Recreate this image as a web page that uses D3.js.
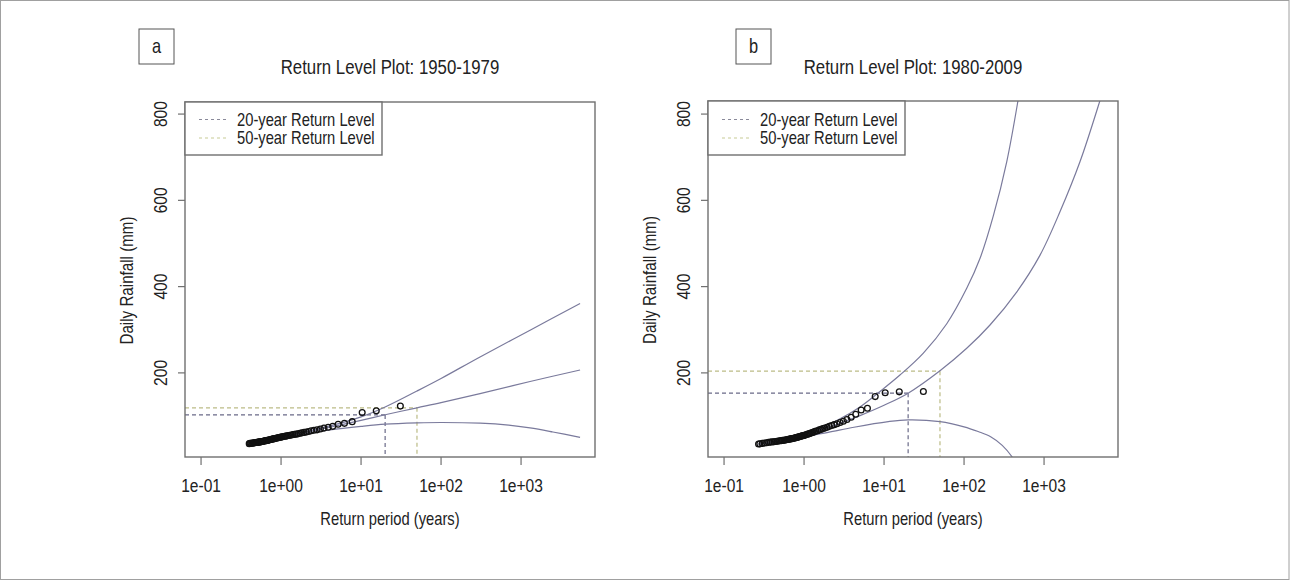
<!DOCTYPE html>
<html><head><meta charset="utf-8">
<script src="https://cdn.jsdelivr.net/npm/d3@7/dist/d3.min.js"></script>
<style>html,body{margin:0;padding:0;background:#fff;}svg{display:block;}</style>
</head><body>
<svg id="chart" width="1290" height="581"></svg>
<script>
// ---------- data ----------
const titles = ["Return Level Plot: 1950-1979", "Return Level Plot: 1980-2009"];
const panelLetters = ["a", "b"];
const legendLabels = ["20-year Return Level", "50-year Return Level"];
const xTickValues = [0.1, 1, 10, 100, 1000];
const xTickLabels = ["1e-01", "1e+00", "1e+01", "1e+02", "1e+03"];
const yTickValues = [200, 400, 600, 800];
const yTickLabels = ["200", "400", "600", "800"];
const xTitle = "Return period (years)";
const yTitle = "Daily Rainfall (mm)";
const returnPeriods = [20, 50];
const levelsA = [102.5, 119];
const levelsB = [153, 204];

// panel a observations (return period, rainfall)
const obsTA = [31, 15.5, 10.33, 7.75, 6.2, 5.17, 4.43, 3.88, 3.44, 3.1, 2.82, 2.58, 2.38, 2.21, 2.07, 1.94, 1.82, 1.72, 1.63, 1.55, 1.48, 1.41, 1.35, 1.29, 1.24, 1.19, 1.15, 1.11, 1.07, 1.03, 1.0, 0.97, 0.94, 0.91, 0.89, 0.86, 0.84, 0.82, 0.8, 0.78, 0.76, 0.74, 0.72, 0.7, 0.69, 0.67, 0.66, 0.65, 0.63, 0.62, 0.61, 0.6, 0.58, 0.57, 0.56, 0.55, 0.54, 0.53, 0.52, 0.51, 0.5, 0.49, 0.48, 0.47, 0.46, 0.45, 0.44, 0.43, 0.42, 0.41, 0.4];
const obsVA = [123, 112, 108, 87, 83, 81, 76, 74, 72, 70, 68, 67, 66, 64, 63, 62, 61, 60, 59, 58, 57.5, 57, 56, 55.5, 55, 54, 53.5, 53, 52.5, 52, 51, 50.5, 50, 49.5, 49, 48.5, 48, 47.5, 47, 46.5, 46, 45.5, 45, 44.5, 44, 43.5, 43, 43, 42.5, 42, 42, 41.5, 41, 41, 40.5, 40, 40, 39.5, 39.5, 39, 39, 38.5, 38.5, 38, 38, 37.5, 37.5, 37, 37, 36.5, 36];
// panel a curves
const estTA = [0.4, 1, 2, 4.1, 10, 20, 50, 100, 307, 1296, 5466];
const estVA = [37, 51, 62, 74, 90, 103, 119, 131, 152, 180, 206.7];
const upTA = [0.4, 1, 2, 4.1, 10, 20, 50, 100, 307, 1296, 5466];
const upVA = [37.5, 52, 64, 77, 98, 121, 158, 187, 237, 299, 361];
const loTA = [0.4, 1, 2, 4.1, 10, 20, 50, 100, 307, 700, 1296, 2500, 5466];
const loVA = [36.5, 50, 59, 68, 76, 81, 84, 85, 83.5, 79, 72.5, 63, 50.6];

// panel b observations
const obsTB = [31, 15.5, 10.33, 7.75, 6.2, 5.17, 4.43, 3.88, 3.44, 3.1, 2.82, 2.58, 2.38, 2.21, 2.07, 1.94, 1.82, 1.72, 1.63, 1.55, 1.48, 1.41, 1.35, 1.29, 1.24, 1.19, 1.15, 1.11, 1.07, 1.03, 1.0, 0.97, 0.94, 0.91, 0.89, 0.86, 0.84, 0.82, 0.8, 0.78, 0.76, 0.74, 0.72, 0.7, 0.68, 0.66, 0.64, 0.62, 0.6, 0.58, 0.56, 0.54, 0.52, 0.5, 0.48, 0.46, 0.44, 0.42, 0.4, 0.38, 0.36, 0.34, 0.32, 0.3, 0.28, 0.27];
const obsVB = [157, 156, 154, 145, 118, 114, 104, 97, 92, 88, 85, 82, 80, 78, 76, 74, 72, 71, 69, 68, 66, 65, 64, 62, 61, 60, 59, 58, 57, 56, 55, 54.5, 54, 53, 52.5, 52, 51, 50.5, 50, 49.5, 49, 48.5, 48, 47.5, 47, 46.5, 46, 45.5, 45, 44.5, 44, 43.5, 43, 42.5, 42, 41.5, 41, 40.5, 40, 39.5, 39, 38, 37.5, 36.5, 35.5, 35];
// panel b curves
const estTB = [0.27, 0.5, 1, 2, 5, 10, 20, 50, 108, 211, 457, 891, 1585, 2818, 5012, 6000];
const estVB = [35, 43, 55, 73, 101, 125, 153, 205, 257, 311, 388, 473, 574, 690, 832, 880];
const upTB = [0.27, 0.5, 1, 2.6, 5, 8.9, 15.8, 31, 60.8, 108, 158, 233, 342, 473, 520];
const upVB = [35.5, 43, 56, 90, 121, 157, 195, 246, 314, 396, 465, 565, 690, 832, 880];
const loTB = [0.27, 0.5, 1, 2, 4.2, 11.3, 20, 50, 100, 150, 215, 300, 400, 480];
const loVB = [34.5, 41, 52, 62, 74, 87, 91, 87, 75, 64, 52, 32, 5, -20];

// ---------- drawing ----------
const svg = d3.select("#chart");
const INK = "#222";
const FRAME = "#707070";
const CURVE = "#7a7a9c";
const COL20 = "#6a6a88";
const COL50 = "#bcbc86";

// font detection (narrow font if available, otherwise horizontally compressed)
function measure(fam) {
  const t = svg.append("text").attr("font-family", fam).attr("font-size", 100).text("Return Level Plot 1950");
  const w = t.node().getComputedTextLength(); t.remove(); return w;
}
const wNarrow = measure('"Liberation Sans Narrow", "Liberation Sans"');
const wReg = measure('"Liberation Sans"');
const narrowOK = wNarrow < 0.92 * wReg;
const FONT = narrowOK ? '"Liberation Sans Narrow", "Arial Narrow", sans-serif' : '"Liberation Sans", Arial, sans-serif';

function txt(parent, x, y, s, size, anchor, rot) {
  let tr = `translate(${x},${y})`;
  if (rot) tr += ` rotate(${rot})`;
  if (!narrowOK) tr += " scale(0.82,1)";
  const g = parent.append("g").attr("transform", tr);
  g.append("text").attr("font-family", FONT).attr("font-size", size)
    .attr("text-anchor", anchor).attr("fill", INK).text(s);
  return g;
}

// outer frame
svg.append("rect").attr("x", 0.5).attr("y", 0.5).attr("width", 1288.5).attr("height", 579)
  .attr("fill", "none").attr("stroke", "#a0a0a0").attr("stroke-width", 1);

const panels = [
  {off: 0, top: 102, obsT: obsTA, obsV: obsVA, est: [estTA, estVA], up: [upTA, upVA], lo: [loTA, loVA], levels: levelsA},
  {off: 523, top: 101, obsT: obsTB, obsV: obsVB, est: [estTB, estVB], up: [upTB, upVB], lo: [loTB, loVB], levels: levelsB}
];

panels.forEach((p, i) => {
  const L = 185 + p.off, R = 595 + p.off, T = p.top, B = 457;
  const x = d3.scaleLog().domain([0.063, 8400]).range([L, R]);
  const y = d3.scaleLinear().domain([5, 828]).range([B, 102]);
  const g = svg.append("g");

  const clipId = "clip" + i;
  svg.append("clipPath").attr("id", clipId).append("rect")
    .attr("x", L).attr("y", T).attr("width", R - L).attr("height", B - T);
  const plot = g.append("g").attr("clip-path", `url(#${clipId})`);

  // return level dashed guides
  const guideCols = [COL20, COL50];
  returnPeriods.forEach((rp, j) => {
    plot.append("line").attr("x1", L).attr("x2", x(rp)).attr("y1", y(p.levels[j])).attr("y2", y(p.levels[j]))
      .attr("stroke", guideCols[j]).attr("stroke-width", 1.2).attr("stroke-dasharray", "4,3");
    plot.append("line").attr("x1", x(rp)).attr("x2", x(rp)).attr("y1", y(p.levels[j])).attr("y2", B)
      .attr("stroke", guideCols[j]).attr("stroke-width", 1.2).attr("stroke-dasharray", "4,3");
  });

  // curves
  const line = d3.line().x(d => x(d[0])).y(d => y(d[1])).curve(d3.curveCatmullRom.alpha(0.5));
  [p.up, p.est, p.lo].forEach(c => {
    const pts = c[0].map((t, k) => [t, c[1][k]]);
    plot.append("path").attr("d", line(pts)).attr("fill", "none")
      .attr("stroke", CURVE).attr("stroke-width", 1.2);
  });

  // observations
  const obs = p.obsT.map((t, k) => [t, p.obsV[k]]);
  plot.selectAll("circle.obs").data(obs).enter().append("circle")
    .attr("class", "obs").attr("cx", d => x(d[0])).attr("cy", d => y(d[1])).attr("r", 2.9)
    .attr("fill", "none").attr("stroke", "#111").attr("stroke-width", 1.3);

  // plot box
  g.append("rect").attr("x", L).attr("y", T).attr("width", R - L).attr("height", B - T)
    .attr("fill", "none").attr("stroke", FRAME).attr("stroke-width", 1.4);

  // x axis ticks and labels
  xTickValues.forEach((v, k) => {
    g.append("line").attr("x1", x(v)).attr("x2", x(v)).attr("y1", B).attr("y2", B + 8)
      .attr("stroke", FRAME).attr("stroke-width", 1.2);
    txt(g, x(v), 492, xTickLabels[k], 19, "middle");
  });
  // y axis ticks and labels
  yTickValues.forEach((v, k) => {
    g.append("line").attr("x1", L - 7).attr("x2", L).attr("y1", y(v)).attr("y2", y(v))
      .attr("stroke", FRAME).attr("stroke-width", 1.2);
    txt(g, L - 18, y(v), yTickLabels[k], 19, "middle", -90);
  });

  // axis titles and plot title
  txt(g, (L + R) / 2, 525, xTitle, 18, "middle");
  txt(g, L - 52, (T + B) / 2 + 1, yTitle, 18.5, "middle", -90);
  txt(g, (L + R) / 2, 74, titles[i], 20.5, "middle");

  // legend
  const lgW = 197;
  g.append("rect").attr("x", L).attr("y", T).attr("width", lgW).attr("height", 155 - T)
    .attr("fill", "#fff").attr("stroke", FRAME).attr("stroke-width", 1.4);
  legendLabels.forEach((lab, j) => {
    const ly = 119.5 + j * 18.5;
    g.append("line").attr("x1", L + 14).attr("x2", L + 42).attr("y1", ly).attr("y2", ly)
      .attr("stroke", j === 0 ? "#8a8a9a" : "#c8cc96").attr("stroke-width", 1.1).attr("stroke-dasharray", "3,3");
    txt(g, L + 52, ly + 6, lab, 18, "start");
  });

  // panel letter box
  const bx = i === 0 ? 139 : 736;
  g.append("rect").attr("x", bx).attr("y", 29).attr("width", 35).attr("height", 35)
    .attr("fill", "#fff").attr("stroke", "#555").attr("stroke-width", 1);
  txt(g, bx + 17.5, 53, panelLetters[i], 20, "middle");
});
</script>
</body></html>
